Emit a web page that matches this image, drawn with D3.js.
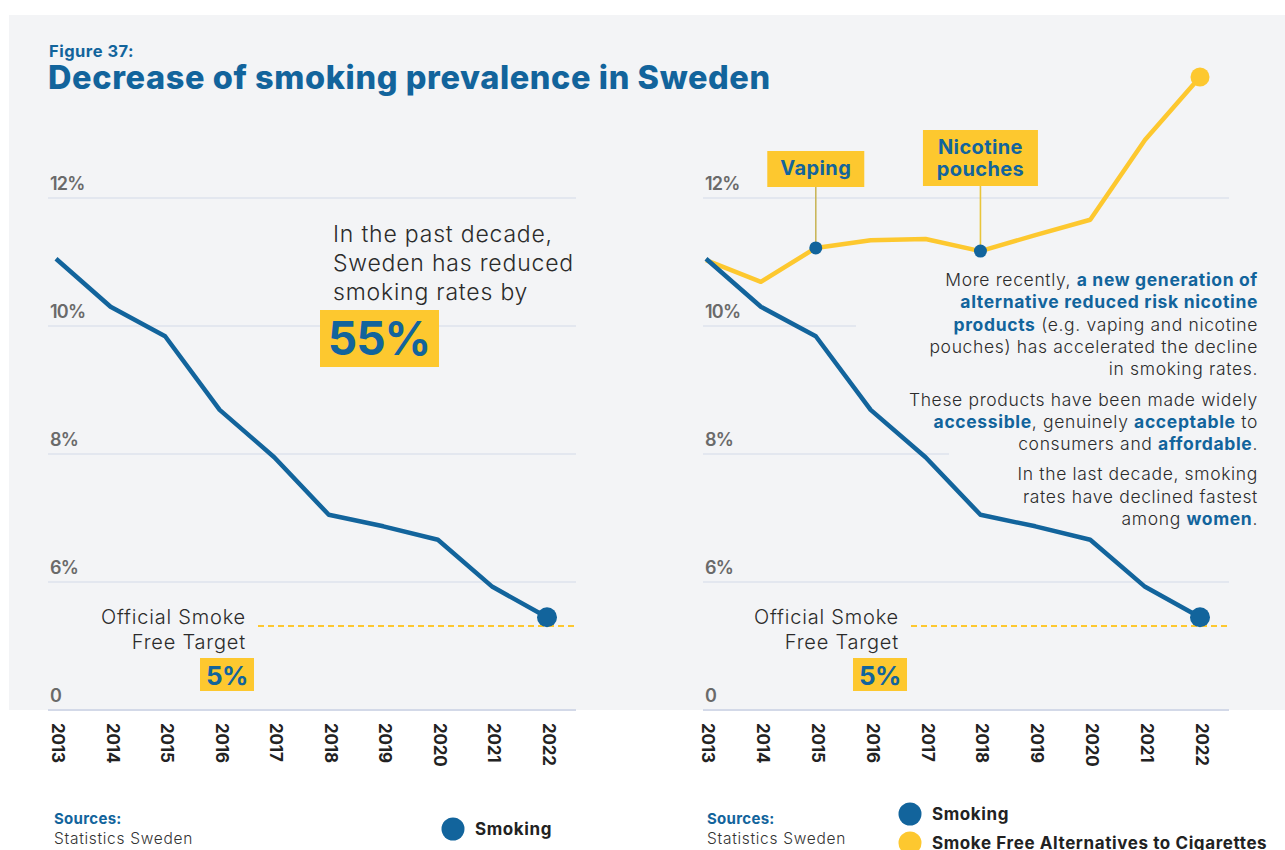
<!DOCTYPE html>
<html><head><meta charset="utf-8">
<script src="https://cdn.jsdelivr.net/npm/d3@7"></script>
<style>body{margin:0;background:#fff;overflow:hidden} svg{display:block}</style>
</head><body><svg id="c" width="1285" height="850"></svg>
<script>
// ---------- data ----------
const years = [2013, 2014, 2015, 2016, 2017, 2018, 2019, 2020, 2021, 2022];
const smoking = [11.05, 10.30, 9.84, 8.69, 7.95, 7.05, 6.87, 6.66, 5.89, 5.2];
const smokeFree = [11.03, 10.69, 11.22, 11.34, 11.36, 11.17, 11.42, 11.66, 12.91, 13.89];
const yTicks = [0, 6, 8, 10, 12];
const yTickLabels = ["0", "6%", "8%", "10%", "12%"];
const targetValue = 5;
const targetLabel = "5%";
const markerYears = [2015, 2018];
const markerLabels = [["Vaping"], ["Nicotine", "pouches"]];
const reductionLabel = "55%";

// ---------- style ----------
const BLUE = "#12649c", YELLOW = "#fdc82f", GRID = "#d3d9e8", TXT = "#2b2b2b", AX = "#6a6a6a";
const FONT = "Inter, 'Noto Sans', sans-serif";

const svg = d3.select("#c");
svg.append("rect").attr("x", 9).attr("y", 15).attr("width", 1276).attr("height", 695).attr("fill", "#f3f4f6");

svg.append("text").attr("x", 49).attr("y", 57).attr("fill", BLUE).attr("font-family", FONT)
  .attr("font-weight", 700).attr("font-size", 16.5).attr("letter-spacing", 0.5).text("Figure 37:");
svg.append("text").attr("x", 48).attr("y", 89).attr("fill", BLUE).attr("font-family", FONT)
  .attr("font-weight", 800).attr("font-size", 32.5).attr("letter-spacing", 0.6).text("Decrease of smoking prevalence in Sweden");

const y = d3.scaleLinear().domain([0, 5, 6, 12]).range([710, 626, 582, 198]);
const line = (x) => d3.line().x((d, i) => x(years[i])).y(d => y(d));

function panel(opt) {
  const g = svg.append("g");
  const x = d3.scalePoint().domain(years).range(opt.xr);
  yTicks.forEach((t, i) => {
    const x2 = opt.gridEnd[t] !== undefined ? opt.gridEnd[t] : opt.gx[1];
    g.append("line").attr("x1", opt.gx[0]).attr("x2", x2).attr("y1", y(t)).attr("y2", y(t))
      .attr("stroke", GRID).attr("stroke-width", t === 0 ? 2 : 1.2);
    g.append("text").attr("x", opt.gx[0] + 2).attr("y", y(t) - 8).attr("fill", AX)
      .attr("font-family", FONT).attr("font-weight", 600).attr("font-size", 18).attr("letter-spacing", -0.8)
      .text(yTickLabels[i]);
  });
  years.forEach(yr => {
    g.append("text").attr("transform", `translate(${x(yr) + 2},${723}) rotate(90)`)
      .attr("dominant-baseline", "central").attr("fill", "#222").attr("font-family", FONT)
      .attr("font-weight", 700).attr("font-size", 17).attr("letter-spacing", -0.2).text(yr);
  });
  g.append("line").attr("x1", opt.dash[0]).attr("x2", opt.gx[1]).attr("y1", y(targetValue)).attr("y2", y(targetValue))
    .attr("stroke", YELLOW).attr("stroke-width", 2).attr("stroke-dasharray", "6,4");
  const tl = g.append("text").attr("text-anchor", "end").attr("fill", TXT).attr("font-family", FONT)
    .attr("font-weight", 300).attr("font-size", 20).attr("letter-spacing", 0.8);
  tl.append("tspan").attr("x", opt.dash[0] - 12).attr("y", 624).text("Official Smoke");
  tl.append("tspan").attr("x", opt.dash[0] - 12).attr("y", 649).text("Free Target");
  g.append("rect").attr("x", opt.dash[0] - 58).attr("y", 658).attr("width", 54).attr("height", 33).attr("fill", YELLOW);
  g.append("text").attr("x", opt.dash[0] - 31).attr("y", 685).attr("text-anchor", "middle").attr("fill", BLUE)
    .attr("font-family", FONT).attr("font-weight", 700).attr("font-size", 26).attr("letter-spacing", -0.5).text(targetLabel);
  return {g, x};
}

// ---------- left ----------
const L = panel({xr: [56, 547], gx: [48, 576], gridEnd: {}, dash: [258]});
L.g.append("path").datum(smoking).attr("d", line(L.x)).attr("fill", "none").attr("stroke", BLUE)
  .attr("stroke-width", 4.5).attr("stroke-linejoin", "round");
L.g.append("circle").attr("cx", L.x(2022)).attr("cy", y(smoking[9])).attr("r", 10).attr("fill", BLUE);

const intro = L.g.append("text").attr("fill", TXT).attr("font-family", FONT).attr("font-weight", 300)
  .attr("font-size", 23).attr("letter-spacing", 0.8);
["In the past decade,", "Sweden has reduced", "smoking rates by"].forEach((s, i) =>
  intro.append("tspan").attr("x", 333).attr("y", 242 + i * 29).text(s));
L.g.append("rect").attr("x", 320).attr("y", 310).attr("width", 119).attr("height", 57).attr("fill", YELLOW);
L.g.append("text").attr("x", 379).attr("y", 355).attr("text-anchor", "middle").attr("fill", BLUE).attr("font-family", FONT)
  .attr("font-weight", 700).attr("font-size", 46).attr("letter-spacing", -1).text(reductionLabel);

// ---------- right ----------
const R = panel({xr: [706, 1200], gx: [703, 1229], gridEnd: {10: 856, 8: 949}, dash: [911]});
R.g.append("path").datum(smokeFree).attr("d", line(R.x)).attr("fill", "none").attr("stroke", YELLOW)
  .attr("stroke-width", 4.5).attr("stroke-linejoin", "round");
R.g.append("path").datum(smoking).attr("d", line(R.x)).attr("fill", "none").attr("stroke", BLUE)
  .attr("stroke-width", 4.5).attr("stroke-linejoin", "round");
R.g.append("circle").attr("cx", R.x(2022)).attr("cy", y(smoking[9])).attr("r", 10).attr("fill", BLUE);
R.g.append("circle").attr("cx", R.x(2022)).attr("cy", y(smokeFree[9])).attr("r", 9.5).attr("fill", YELLOW);

const boxes = [{w: 97, top: 151, bottom: 187, base: [175], col: "#c9b65a"},
               {w: 115, top: 130, bottom: 186, base: [154, 176], col: "#e9c53a"}];
markerYears.forEach((yr, k) => {
  const cx = R.x(yr), v = smokeFree[years.indexOf(yr)], b = boxes[k];
  R.g.append("line").attr("x1", cx).attr("x2", cx).attr("y1", b.bottom).attr("y2", y(v))
    .attr("stroke", b.col).attr("stroke-width", 1.6);
  R.g.append("circle").attr("cx", cx).attr("cy", y(v)).attr("r", 6.5).attr("fill", BLUE);
  R.g.append("rect").attr("x", cx - b.w / 2).attr("y", b.top).attr("width", b.w).attr("height", b.bottom - b.top).attr("fill", YELLOW);
  const t = R.g.append("text").attr("text-anchor", "middle").attr("fill", BLUE).attr("font-family", FONT)
    .attr("font-weight", 700).attr("font-size", 20).attr("letter-spacing", 0.4);
  markerLabels[k].forEach((s, i) => t.append("tspan").attr("x", cx).attr("y", b.base[i]).text(s));
});

const para = [
  [["More recently, ", 0], ["a new generation of", 1]],
  [["alternative reduced risk nicotine", 1]],
  [["products", 1], [" (e.g. vaping and nicotine", 0]],
  [["pouches) has accelerated the decline", 0]],
  [["in smoking rates.", 0]],
  null,
  [["These products have been made widely", 0]],
  [["accessible", 1], [", genuinely ", 0], ["acceptable", 1], [" to", 0]],
  [["consumers and ", 0], ["affordable", 1], [".", 0]],
  null,
  [["In the last decade, smoking", 0]],
  [["rates have declined fastest", 0]],
  [["among ", 0], ["women", 1], [".", 0]]
];
let by = 286;
para.forEach(ln => {
  if (!ln) { by += 8; return; }
  const t = R.g.append("text").attr("x", 1258).attr("y", by).attr("text-anchor", "end")
    .attr("font-family", FONT).attr("font-size", 17.5).attr("letter-spacing", 0.65);
  ln.forEach(([s, b]) => t.append("tspan").attr("fill", b ? BLUE : TXT).attr("font-weight", b ? 700 : 300).text(s));
  by += 22.3;
});

// ---------- footer ----------
[[54, 453, [["Smoking", BLUE, 829]]], [707, 910, [["Smoking", BLUE, 814], ["Smoke Free Alternatives to Cigarettes", YELLOW, 843]]]]
  .forEach(([sx, lx, items]) => {
    svg.append("text").attr("x", sx).attr("y", 824).attr("fill", BLUE).attr("font-family", FONT)
      .attr("font-weight", 700).attr("font-size", 15).attr("letter-spacing", 0.3).text("Sources:");
    svg.append("text").attr("x", sx).attr("y", 844).attr("fill", "#333").attr("font-family", FONT)
      .attr("font-weight", 300).attr("font-size", 15.5).attr("letter-spacing", 0.7).text("Statistics Sweden");
    items.forEach(([lab, col, cy]) => {
      svg.append("circle").attr("cx", lx).attr("cy", cy).attr("r", 11.5).attr("fill", col);
      svg.append("text").attr("x", lx + 22).attr("y", cy).attr("dominant-baseline", "central").attr("fill", "#222")
        .attr("font-family", FONT).attr("font-weight", 700).attr("font-size", 17).attr("letter-spacing", 0.6).text(lab);
    });
  });
</script></body></html>
